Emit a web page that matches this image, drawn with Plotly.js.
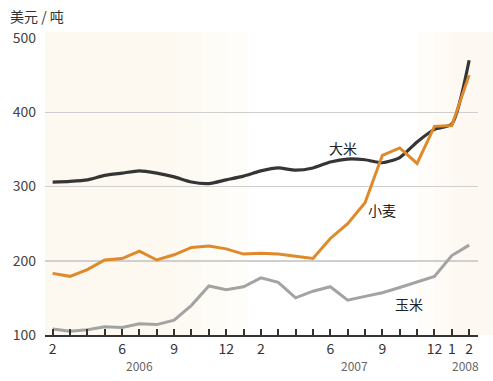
<!DOCTYPE html>
<html>
<head>
<meta charset="utf-8">
<script src="https://cdn.plot.ly/plotly-3.0.1.min.js"></script>
<style>html,body{margin:0;padding:0;background:#fff;}#chart{width:493px;height:381px;}</style>
</head>
<body>
<div id="chart"></div>
<script>
const months = ['2006-02','2006-03','2006-04','2006-05','2006-06','2006-07','2006-08','2006-09','2006-10','2006-11','2006-12',
  '2007-01','2007-02','2007-03','2007-04','2007-05','2007-06','2007-07','2007-08','2007-09','2007-10','2007-11','2007-12',
  '2008-01','2008-02'];
const rice  = [306,307,309,315,318,321,318,313,306,304,309,314,321,325,322,325,333,337,336,332,339,360,377,384,470];
const wheat = [183,179,188,201,203,213,201,208,218,220,216,209,210,209,206,203,230,250,278,342,352,331,381,382,450];
const corn  = [108,105,107,111,110,115,114,120,140,166,161,165,177,171,150,159,165,147,152,157,164,172,179,207,221];
const tickMonths = ['2006-02','2006-06','2006-09','2006-12','2007-02','2007-06','2007-09','2007-12','2008-01','2008-02'];
const tickText   = ['2','6','9','12','2','6','9','12','1','2'];
const yTicks = [100,200,300,400,500];
const years = [{label:'2006', x:5.03},{label:'2007', x:17.4},{label:'2008', x:23.8}];
const seriesLabels = [{text:'大米', x:16.73, y:352},{text:'小麦', x:18.98, y:268},{text:'玉米', x:20.54, y:142}];

const font = '"Noto Sans CJK SC", "Noto Sans", sans-serif';

const traces = [
  {x: months, y: corn, type:'scatter', mode:'lines', line:{color:'#a3a3a3', width:3}, hoverinfo:'skip'},
  {x: months, y: rice, type:'scatter', mode:'lines', line:{color:'#353535', width:3.2, shape:'spline', smoothing:0.6}, hoverinfo:'skip'},
  {x: months, y: wheat, type:'scatter', mode:'lines', line:{color:'#e0892b', width:3}, hoverinfo:'skip'}
];

const tv = months.slice();
const tt = months.map(m => { const i = tickMonths.indexOf(m); return i >= 0 ? tickText[i] : ''; });

const annotations = [
  {text:'美元 / 吨', xref:'paper', yref:'paper', x:-0.085, y:1.074, xanchor:'left', yanchor:'middle', showarrow:false, font:{family:font, size:14, color:'#333'}},
  {text:'月', xref:'x', yref:'paper', x:24.96, y:-0.037, xanchor:'center', yanchor:'middle', showarrow:false, font:{family:font, size:14, color:'#333'}}
];
years.forEach(y => annotations.push({text:y.label, xref:'x', yref:'paper', x:y.x, y:-0.104, xanchor:'center', yanchor:'middle', showarrow:false, font:{family:font, size:12, color:'#666'}}));
seriesLabels.forEach(s => annotations.push({text:s.text, xref:'x', yref:'y', x:s.x, y:s.y, xanchor:'center', yanchor:'middle', showarrow:false, font:{family:font, size:14, color:'#222'}}));

const bg = [
  [0.00, 0.30, '#fdf9f1'], [0.30, 0.36, '#fdfaf4'], [0.36, 0.42, '#fefcf7'], [0.42, 0.47, '#fefdfa'],
  [0.86, 0.90, '#fefdfa'], [0.90, 0.94, '#fefbf6'], [0.94, 1.035, '#fdf9f2']
];
const shapes = bg.map(b => ({type:'rect', xref:'paper', yref:'paper', x0:b[0], x1:b[1], y0:0, y1:1.02, fillcolor:b[2], line:{width:0}, layer:'below'}));
shapes.push({type:'line', xref:'paper', yref:'y', x0:0, x1:1, y0:200, y1:200, line:{color:'#9a9a9a', width:1.5}, layer:'below'});

const layout = {
  width: 493, height: 381,
  margin: {l:45, r:15, t:38, b:46},
  paper_bgcolor:'#ffffff', plot_bgcolor:'rgba(0,0,0,0)',
  showlegend:false,
  font:{family:font, size:13, color:'#333'},
  xaxis: {
    type:'category', categoryorder:'array', categoryarray: months,
    range:[-0.44, 24.51],
    tickmode:'array', tickvals: tv, ticktext: tt,
    ticks:'inside', ticklen:6, tickwidth:2, tickcolor:'#333',
    showline:true, linecolor:'#333', linewidth:2,
    showgrid:false, zeroline:false,
    tickfont:{family:font, size:14, color:'#333'}
  },
  yaxis: {
    range:[100, 500], tickmode:'array', tickvals: yTicks,
    showgrid:true, gridcolor:'#cfcfcf', gridwidth:1.5,
    zeroline:false, showline:false, ticks:'', ticklabelstandoff:8,
    tickfont:{family:font, size:14, color:'#444'}
  },
  shapes: shapes,
  annotations: annotations
};

Plotly.newPlot('chart', traces, layout, {staticPlot:true, displayModeBar:false});
</script>
</body>
</html>
